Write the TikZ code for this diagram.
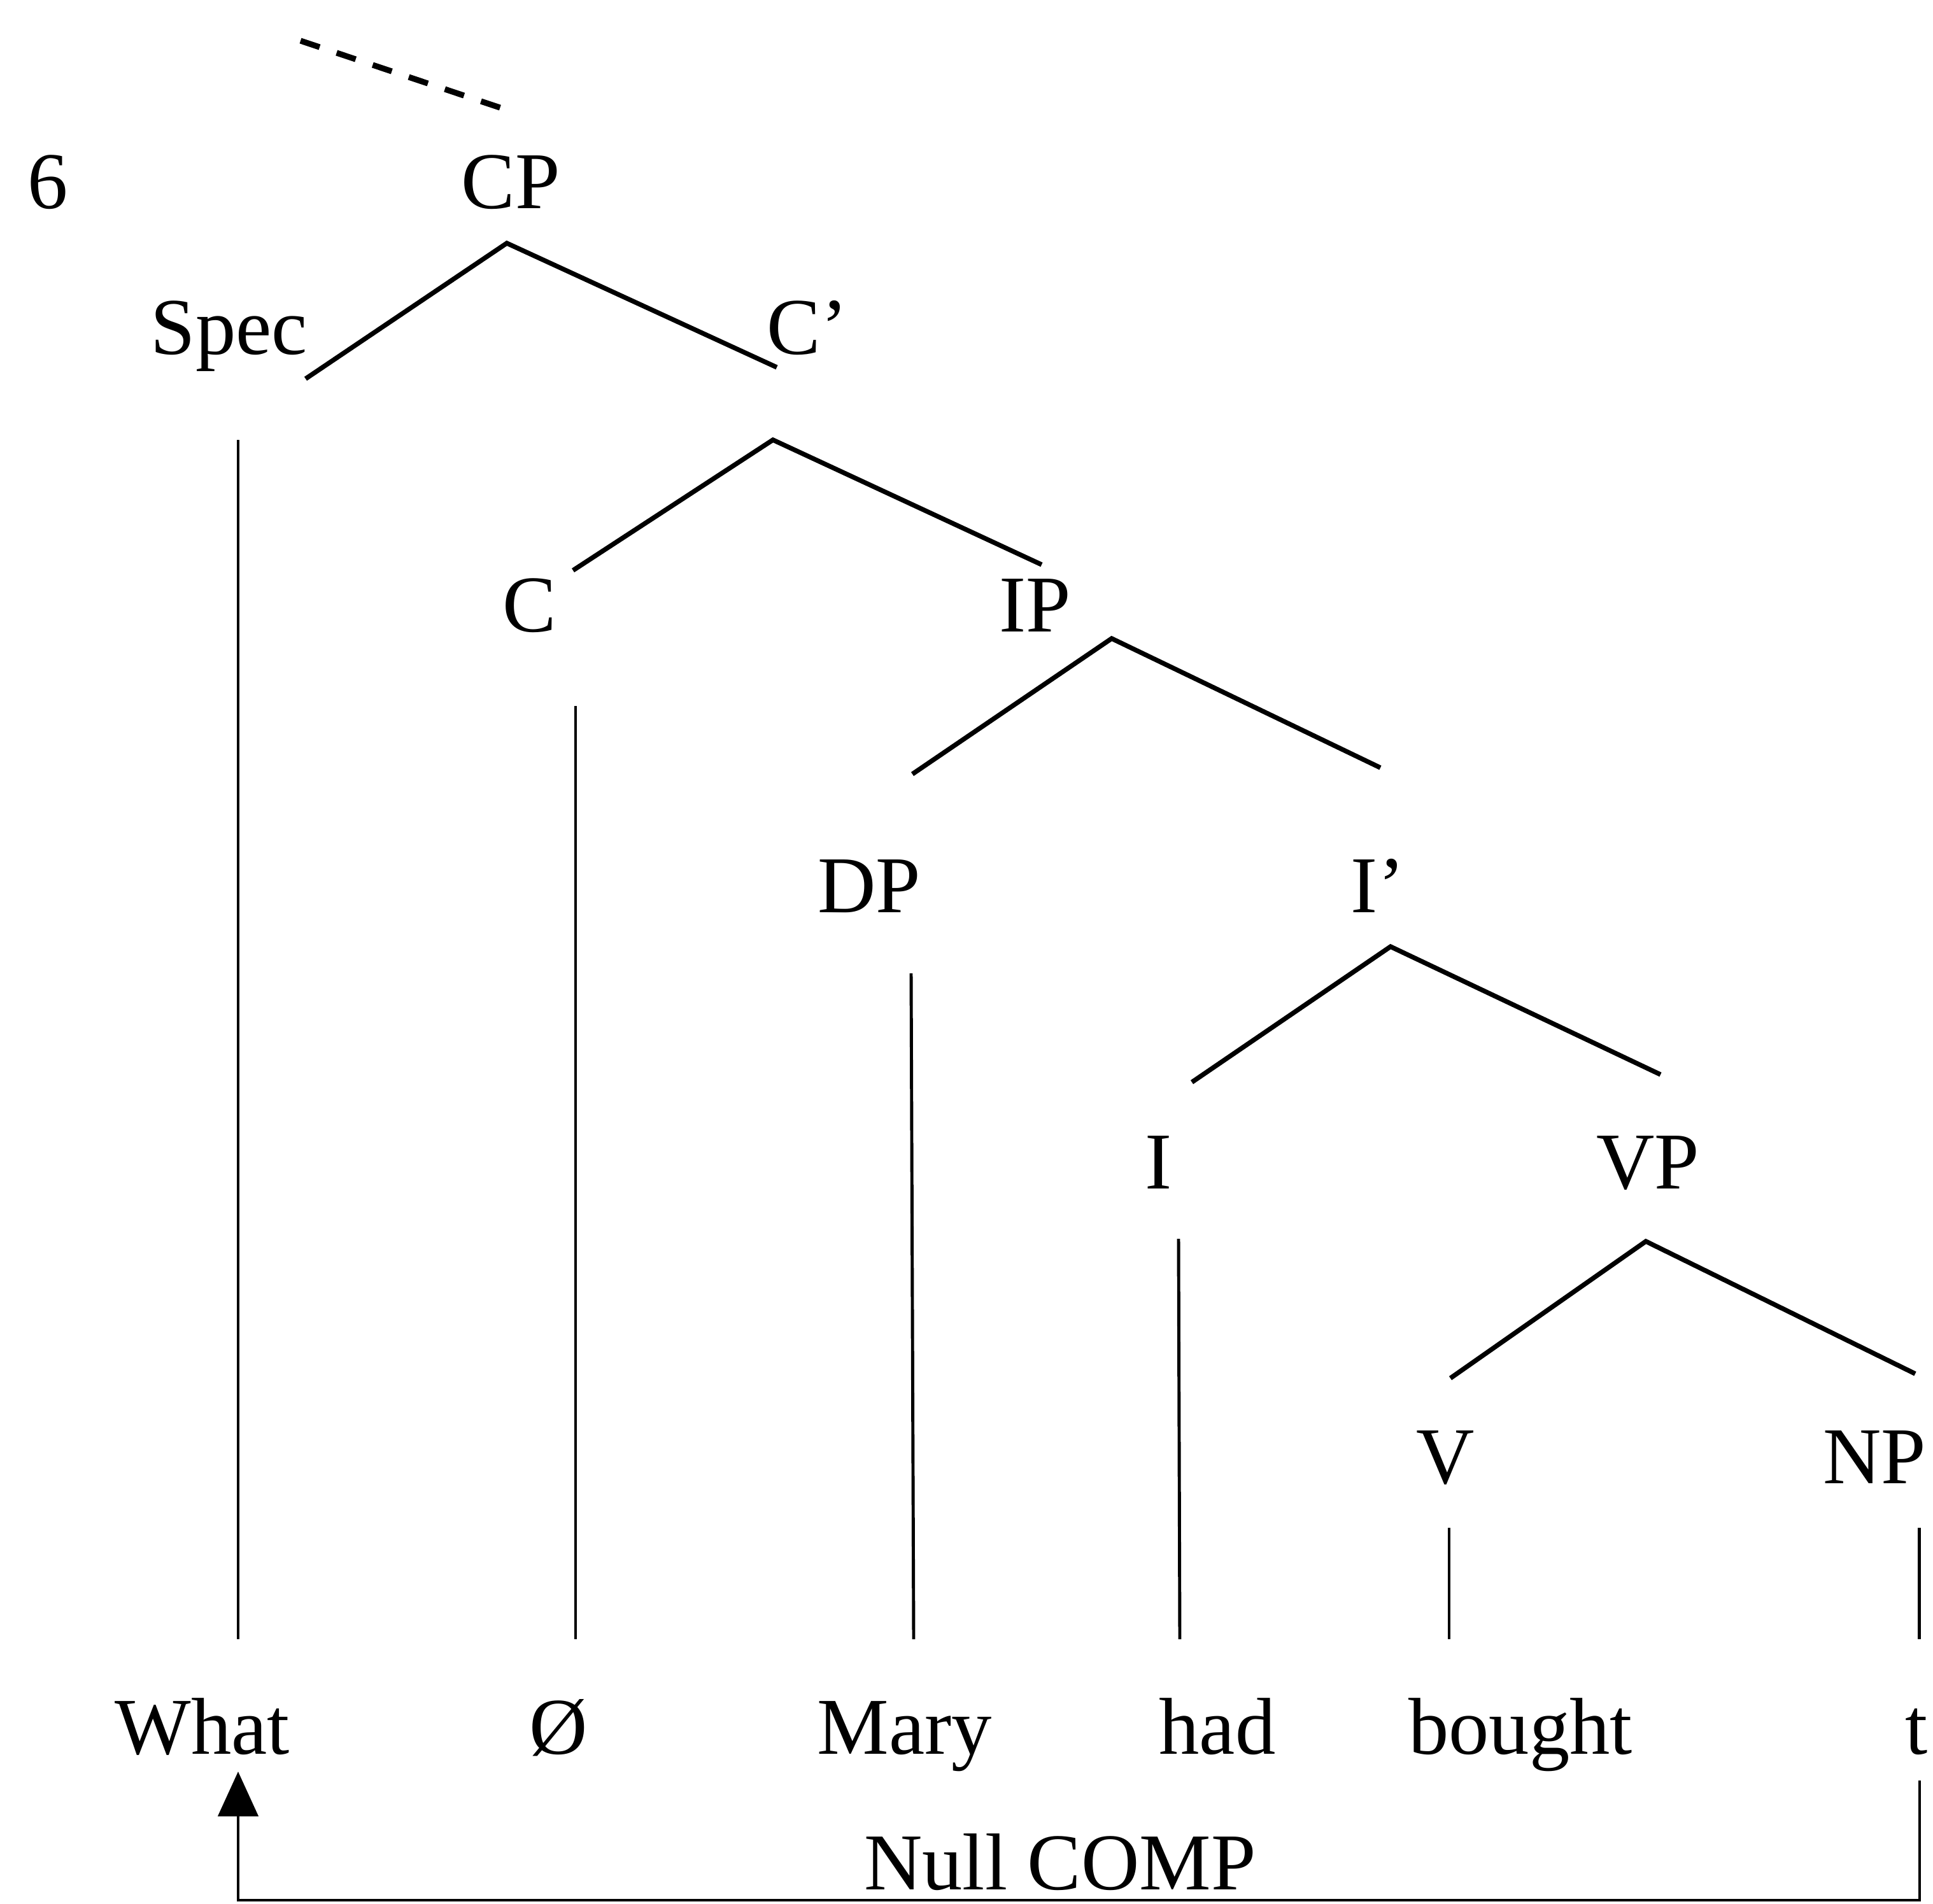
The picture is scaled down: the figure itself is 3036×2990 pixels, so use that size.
\documentclass[tikz,border=0pt]{standalone}
\usepackage{fontspec}
\setmainfont{Liberation Serif}
\usetikzlibrary{arrows.meta}
\begin{document}
\begin{tikzpicture}[x=0.01cm,y=-0.01cm,
  lab/.style={font=\fontsize{36}{40}\selectfont,inner sep=0pt,anchor=base},
  branch/.style={line width=2.1pt},
  stem/.style={line width=1.4pt}]
\useasboundingbox (0,0) rectangle (3036,2990);
% labels
\node[lab] (num) at (75,327) {6};
\node[lab] (CP) at (802,327) {CP};
\node[lab] (Spec) at (360,556) {Spec};
\node[lab] (Cbar) at (1268,556) {C’};
\node[lab] (C) at (832,992) {C};
\node[lab] (IP) at (1626,992) {IP};
\node[lab] (DP) at (1365,1433) {DP};
\node[lab] (Ibar) at (2164,1433) {I’};
\node[lab] (I) at (1820,1867) {I};
\node[lab] (VP) at (2588,1867) {VP};
\node[lab] (V) at (2270,2330) {V};
\node[lab] (NP) at (2944,2330) {NP};
\node[lab] (What) at (318,2755) {What};
\node[lab] (Null) at (877,2755) {Ø};
\node[lab] (Mary) at (1421,2755) {Mary};
\node[lab] (had) at (1912,2755) {had};
\node[lab] (bought) at (2388,2755) {bought};
\node[lab] (t) at (3010,2755) {t};
\node[lab] (comp) at (1665,2968) {Null COMP};
% coordinates
\coordinate[] (D1) at (472,64);
\coordinate[] (D2) at (794,172);
\coordinate[] (CP1) at (796,382);
\coordinate[] (CP2) at (480,595);
\coordinate[] (CP3) at (1220,577);
\coordinate[] (Cbar1) at (1214,691);
\coordinate[] (Cbar2) at (900,896);
\coordinate[] (Cbar3) at (1636,887);
\coordinate[] (IP1) at (1746,1003);
\coordinate[] (IP2) at (1433,1216);
\coordinate[] (IP3) at (2168,1206);
\coordinate[] (Ibar1) at (2184,1487);
\coordinate[] (Ibar2) at (1872,1700);
\coordinate[] (Ibar3) at (2608,1688);
\coordinate[] (VP1) at (2585,1950);
\coordinate[] (VP2) at (2278,2165);
\coordinate[] (VP3) at (3008,2158);
\coordinate[] (S1) at (374,691);
\coordinate[] (S2) at (374,2575);
\coordinate[] (C1) at (904,1109);
\coordinate[] (C2) at (904,2575);
\coordinate[] (DP1) at (1431,1529);
\coordinate[] (DP2) at (1435,2575);
\coordinate[] (I1) at (1851,1946);
\coordinate[] (I2) at (1853,2575);
\coordinate[] (V1) at (2276,2400);
\coordinate[] (V2) at (2276,2575);
\coordinate[] (NP1) at (3014,2400);
\coordinate[] (NP2) at (3014,2575);
\coordinate[] (T1) at (3015,2797);
\coordinate[] (T2) at (3015,2985);
\coordinate[] (W1) at (374,2783);
\draw[line width=2.6pt,dash pattern=on 9pt off 8pt] (D1)--(D2);
\draw[branch] (CP2)--(CP1)--(CP3);
\draw[branch] (Cbar2)--(Cbar1)--(Cbar3);
\draw[branch] (IP2)--(IP1)--(IP3);
\draw[branch] (Ibar2)--(Ibar1)--(Ibar3);
\draw[branch] (VP2)--(VP1)--(VP3);
\draw[stem] (S1)--(S2);
\draw[stem] (C1)--(C2);
\draw[stem] (DP1)--(DP2);
\draw[stem] (I1)--(I2);
\draw[stem] (V1)--(V2);
\draw[stem] (NP1)--(NP2);
\draw[line width=1.1pt,-{Triangle[width=18pt,length=20pt]}] (T1)--(T2)-|(W1);

\end{tikzpicture}
\end{document}
